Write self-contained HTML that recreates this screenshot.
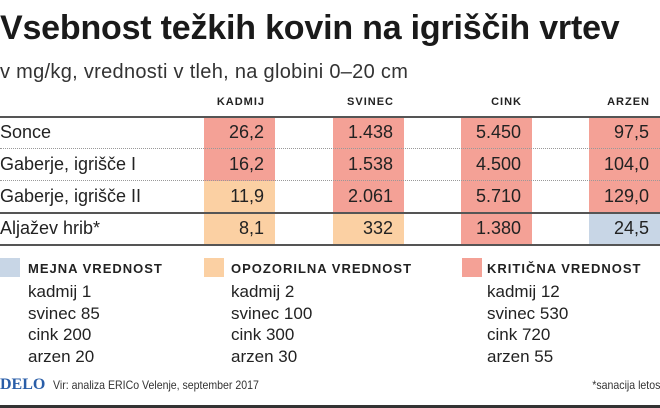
<!DOCTYPE html>
<html><head><meta charset="utf-8"><style>
body{margin:0;width:660px;height:408px;overflow:hidden;background:#fff;font-family:"Liberation Sans",sans-serif;color:#222;position:relative}
.a{position:absolute;white-space:nowrap}
.t{font-weight:bold;font-size:34px;left:0;top:9px;letter-spacing:-0.2px;color:#1a1a1a}
.s{font-size:20px;left:0;top:61px;color:#333;letter-spacing:0.3px}
.h{font-size:11px;font-weight:bold;letter-spacing:1px;top:96px}
.rl{font-size:18px;left:0}
.v{font-size:18px;text-align:right}
.lh{font-size:13px;font-weight:bold;letter-spacing:1px;top:261px}
.li{font-size:17px}
</style></head><body>
<div class="a t">Vsebnost težkih kovin na igriščih vrtev</div>
<div class="a s">v mg/kg, vrednosti v tleh, na globini 0–20 cm</div>
<div id="tbl"></div>
<div class="a" style="left:0;top:258px;width:20px;height:19px;background:#c8d6e6"></div>
<div class="a lh" style="left:28px">MEJNA VREDNOST</div>
<div class="a" style="left:204px;top:258px;width:20px;height:19px;background:#fbd0a3"></div>
<div class="a lh" style="left:231px">OPOZORILNA VREDNOST</div>
<div class="a" style="left:462px;top:258px;width:20px;height:19px;background:#f4a196"></div>
<div class="a lh" style="left:487px">KRITIČNA VREDNOST</div>
<div id="leg"></div>
<div class="a" style="left:0;top:376px;font-family:'Liberation Serif',serif;font-weight:bold;font-size:16px;color:#2a5ea8">DELO</div>
<div class="a" style="left:53px;top:378px;font-size:12px;color:#333;transform:scaleX(0.88);transform-origin:left">Vir: analiza ERICo Velenje, september 2017</div>
<div class="a" style="right:0;top:378px;font-size:12px;color:#333;transform:scaleX(0.88);transform-origin:right">*sanacija letos</div>
<div class="a" style="left:0;top:405px;width:660px;height:3px;background:#333"></div>
<script>
const columns=["KADMIJ","SVINEC","CINK","ARZEN"];
const rows=["Sonce","Gaberje, igrišče I","Gaberje, igrišče II","Aljažev hrib*"];
const values=[["26,2","1.438","5.450","97,5"],["16,2","1.538","4.500","104,0"],["11,9","2.061","5.710","129,0"],["8,1","332","1.380","24,5"]];
const levels=[["k","k","k","k"],["k","k","k","k"],["o","k","k","k"],["o","o","k","m"]];
const legendItems=[["kadmij 1","svinec 85","cink 200","arzen 20"],["kadmij 2","svinec 100","cink 300","arzen 30"],["kadmij 12","svinec 530","cink 720","arzen 55"]];
const colors={k:"#f4a196",o:"#fbd0a3",m:"#c8d6e6"};
const colL=[204,333,461,589], colW=71, top0=117, rowH=32;
const tbl=document.getElementById('tbl');
function mk(cls,css,txt){const d=document.createElement('div');d.className='a '+cls;d.style.cssText=css;if(txt!=null)d.textContent=txt;tbl.appendChild(d);return d;}
columns.forEach((c,j)=>{const d=mk('h',`left:${colL[j]}px;width:${colW-10}px;text-align:right`,c);

});
rows.forEach((r,i)=>{const y=top0+i*rowH;
 const l=mk('rl',`top:${y+5}px`,r);
 
 
 values[i].forEach((v,j)=>{const c=mk('',`left:${colL[j]}px;top:${y}px;width:${colW}px;height:${rowH}px;background:${colors[levels[i][j]]}`);
  
  
  const t=mk('v',`left:${colL[j]}px;top:${y+5}px;width:${colW-11}px`,v);
  
  });});
for(let i=0;i<=rows.length;i++){const y=top0-1+i*rowH;const dotted=(i==1||i==2);
 const ln=mk('',`left:0;top:${y}px;width:660px;height:0;border-top:${dotted?'1px dotted #999':'2px solid #555'}`);
 
 }
const legX=[28,231,487];
legendItems.forEach((g,j)=>g.forEach((it,k)=>{const d=mk('li',`left:${legX[j]}px;top:${282+k*21.5}px`,it);
 
 }));
</script>
</body></html>
